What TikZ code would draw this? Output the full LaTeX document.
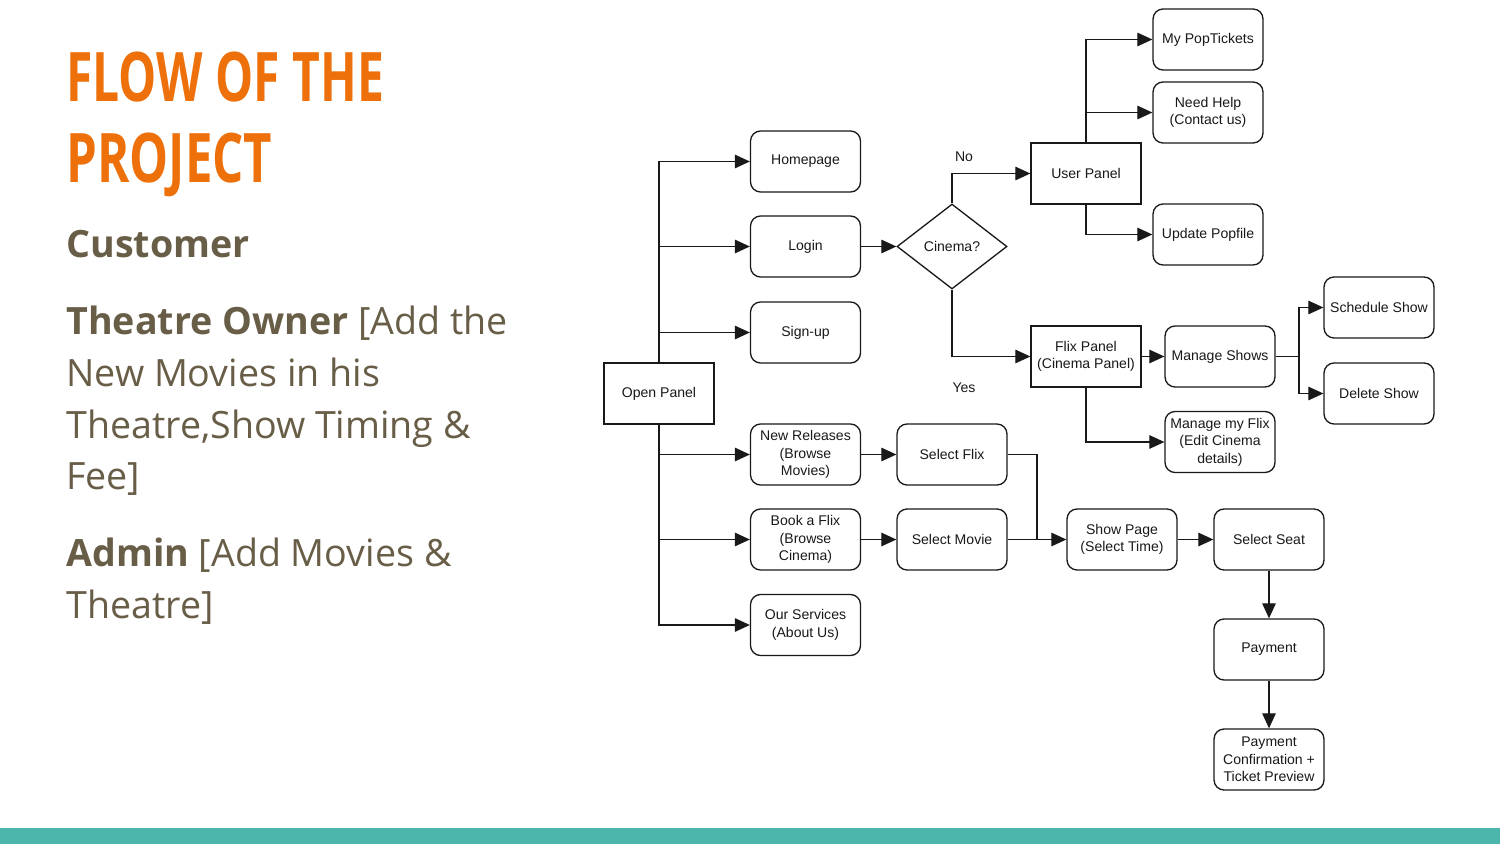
\documentclass[tikz,border=0pt]{standalone}
\usepackage{fontspec}
\usepackage{graphicx}
\setmainfont{Open Sans}
\newfontfamily\diagfont{Liberation Sans}
\usetikzlibrary{arrows.meta,shapes.geometric}
\definecolor{titleorange}{RGB}{237,112,10}
\definecolor{bodybrown}{RGB}{104,93,70}
\definecolor{barteal}{RGB}{77,182,172}
\definecolor{ink}{RGB}{25,25,25}

\begin{document}
\begin{tikzpicture}[x=0.02cm,y=-0.02cm,
  box/.style={draw=ink, line width=0.75pt, minimum width=2.2cm, minimum height=1.22cm,
    inner sep=1pt, align=center, font=\diagfont\fontsize{8}{9.9}\selectfont, text=ink},
  rbox/.style={box, rounded corners=0.2cm},
  decision/.style={box, diamond, aspect=1.3, minimum width=2.2cm, minimum height=1.7cm, inner sep=0pt},
  flow/.style={draw=ink, line width=0.7pt, -{Triangle[length=0.3cm,width=0.27cm]}},
  link/.style={draw=ink, line width=0.7pt},
  lbl/.style={font=\diagfont\fontsize{8}{9.9}\selectfont, text=ink, inner sep=0pt},
  side/.style={anchor=base west, inner sep=0pt, text=bodybrown, font=\fontsize{21.4}{26}\selectfont},
  heading/.style={anchor=base west, inner sep=0pt, text=titleorange, font=\bfseries\fontsize{38.9}{40}\selectfont},
]
% page and footer band
\fill[white] (0,0) rectangle (1500,844);
\fill[barteal] (0,828) rectangle (1500,844);

% title and roles
\node[heading] (t1) at (66,102) {\resizebox{6.36cm}{\height}{FLOW OF THE}};
\node[heading] (t2) at (66,183) {\resizebox{4.12cm}{\height}{PROJECT}};
\node[side] (r1) at (66,258) {\textbf{Customer}};
\node[side] (r2) at (66,335) {\textbf{Theatre Owner} [Add the};
\node[side] (r3) at (66,386.5) {New Movies in his};
\node[side] (r4) at (66,438) {Theatre,Show Timing \&};
\node[side] (r5) at (66,489.5) {Fee]};
\node[side] (r6) at (66,566.5) {\textbf{Admin} [Add Movies \&};
\node[side] (r7) at (66,618) {Theatre]};

% flowchart nodes
\node[box]  (open)   at (659,393.5)  {Open Panel};
\node[rbox] (home)   at (805.5,161.5) {Homepage};
\node[rbox] (login)  at (805.5,246.5) {Login};
\node[rbox] (signup) at (805.5,332.5) {Sign-up};
\node[rbox] (newrel) at (805.5,454.5) {New Releases\\(Browse\\Movies)};
\node[rbox] (book)   at (805.5,539.5) {Book a Flix\\(Browse\\Cinema)};
\node[rbox] (serv)   at (805.5,625)   {Our Services\\(About Us)};

\node[decision] (cin) at (952,246.5) {Cinema?};
\node[rbox] (sflix)  at (952,454.5) {Select Flix};
\node[rbox] (smovie) at (952,539.5) {Select Movie};

\node[box]  (user)   at (1086,173.5) {User Panel};
\node[box]  (flix)   at (1086,356.5) {Flix Panel\\(Cinema Panel)};
\node[rbox] (pop)    at (1208,39.5)  {My PopTickets};
\node[rbox] (help)   at (1208,112.5) {Need Help\\(Contact us)};
\node[rbox] (upd)    at (1208,234.5) {Update Popfile};
\node[rbox] (mshows) at (1220,356.5) {Manage Shows};
\node[rbox] (mflix)  at (1220,442)   {Manage my Flix\\(Edit Cinema\\details)};
\node[rbox] (sched)  at (1379,307.5) {Schedule Show};
\node[rbox] (del)    at (1379,393.5) {Delete Show};

\node[rbox] (showp)  at (1122,539.5) {Show Page\\(Select Time)};
\node[rbox] (seat)   at (1269,539.5) {Select Seat};
\node[rbox] (pay)    at (1269,649.5) {Payment};
\node[rbox] (conf)   at (1269,759.5) {Payment\\Confirmation +\\Ticket Preview};

\node[lbl] (no)  at (964,157) {No};
\node[lbl] (yes) at (964,388) {Yes};

\coordinate (split) at (1299,356.5);
\coordinate (merge) at (1037,539.5);

% connectors
\draw[flow] (open.north) |- (home.west);
\draw[flow] (open.north) |- (login.west);
\draw[flow] (open.north) |- (signup.west);
\draw[flow] (open.south) |- (newrel.west);
\draw[flow] (open.south) |- (book.west);
\draw[flow] (open.south) |- (serv.west);

\draw[flow] (login.east) -- (cin.west);
\draw[flow] (cin.north) |- (user.west);
\draw[flow] (cin.south) |- (flix.west);

\draw[flow] (user.north) |- (pop.west);
\draw[flow] (user.north) |- (help.west);
\draw[flow] (user.south) |- (upd.west);

\draw[flow] (flix.east) -- (mshows.west);
\draw[flow] (flix.south) |- (mflix.west);
\draw[link] (mshows.east) -- (split);
\draw[flow] (split) |- (sched.west);
\draw[flow] (split) |- (del.west);

\draw[flow] (newrel.east) -- (sflix.west);
\draw[flow] (book.east) -- (smovie.west);
\draw[link] (sflix.east) -| (merge);
\draw[flow] (smovie.east) -- (showp.west);
\draw[flow] (showp.east) -- (seat.west);
\draw[flow] (seat.south) -- (pay.north);
\draw[flow] (pay.south) -- (conf.north);
\end{tikzpicture}
\end{document}
